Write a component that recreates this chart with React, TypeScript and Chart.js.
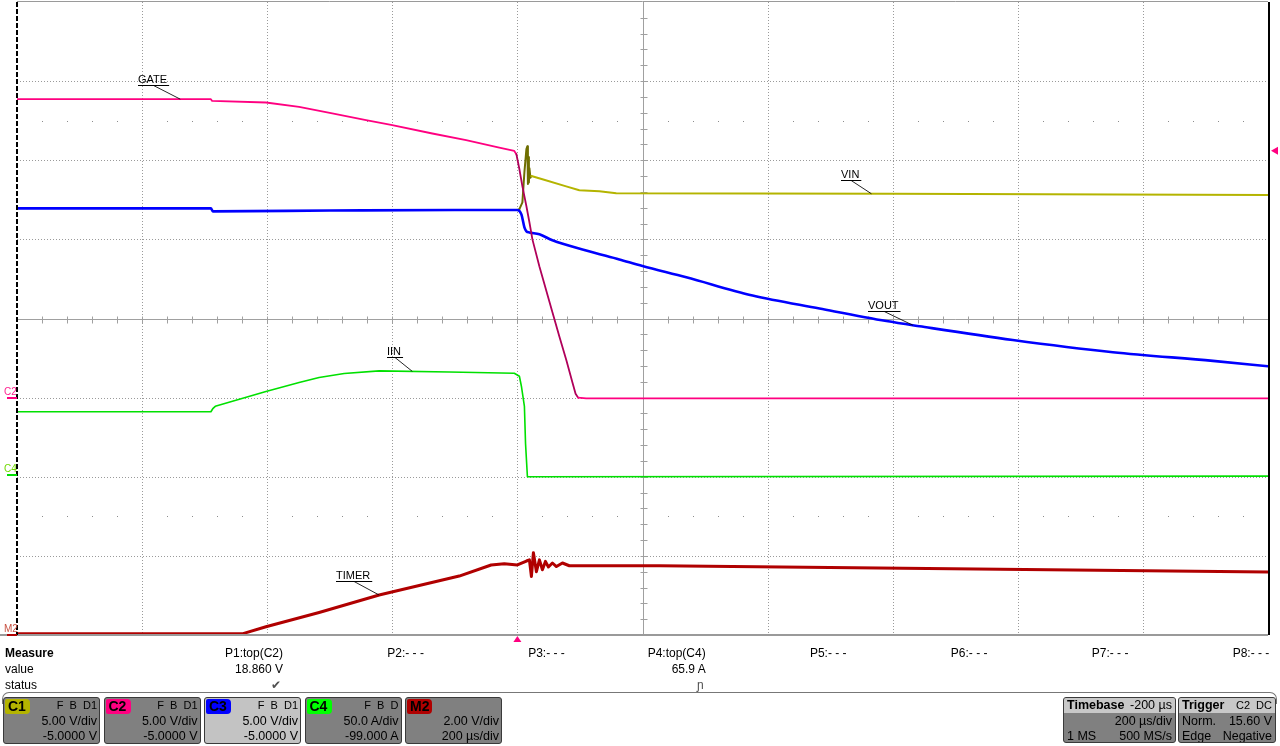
import React, { useEffect, useRef } from "react";
import { Chart, registerables } from "chart.js";

Chart.register(...registerables);

// ---------- time axis (µs, relative to trigger) ----------
const timeMin = -800;
const timeMax = 1200;
const timePerDiv = 200;
const minorTime = 40;

// ---------- C2 GATE (V) ----------
const gateTime = [-800, -490, -488, -402, -349, -296, -242, -202, -136, -82, -29, -5, -1.6, 3.2, 8, 14.4, 19.2, 24, 35.2, 56, 67.2, 78.4, 88, 93, 97, 110, 1200];
const gateVolts = [18.86, 18.86, 18.75, 18.65, 18.37, 17.96, 17.53, 17.23, 16.69, 16.27, 15.8, 15.59, 15.38, 14.43, 13.35, 12.09, 11.08, 10.0, 8.29, 5.4, 3.85, 2.35, 0.95, 0.25, 0.0, -0.05, -0.05];

// ---------- C1 VIN (V) ----------
const vinTime = [0, 3, 8, 11.2, 14.4, 16, 16.8, 17.6, 18.4, 19.2, 20.8, 22.4, 40, 78, 99, 131, 158, 600, 1200];
const vinVolts = [11.86, 11.9, 12.34, 14.24, 15.7, 15.89, 13.5, 15.2, 13.6, 14.5, 13.9, 14.0, 13.8, 13.35, 13.1, 13.04, 12.91, 12.88, 12.8];

// ---------- C3 VOUT (V) ----------
const voutTime = [-800, -490, -487, -300, -100, 0, 6.4, 11.2, 14.4, 19.2, 35.2, 56, 110, 163, 200, 270, 376, 483, 590, 643, 792, 952, 1112, 1200];
const voutVolts = [11.96, 11.96, 11.77, 11.82, 11.86, 11.86, 11.58, 10.76, 10.51, 10.44, 10.32, 9.94, 9.3, 8.73, 8.32, 7.6, 6.45, 5.63, 4.84, 4.51, 3.64, 2.87, 2.32, 1.98];

// ---------- C4 IIN (A) ----------
const iinTime = [-800, -490, -487, -483, -402, -349, -317, -277, -221, -109, -5, 3.2, 6.4, 11.2, 13, 16, 1200];
const iinAmps = [40.1, 40.1, 42.0, 43.5, 52.9, 58.5, 61.7, 64.2, 65.9, 65.2, 64.4, 62.5, 56.2, 43.5, 20, -1, -0.6];

// ---------- M2 TIMER (V) ----------
const timerTime = [-800, -440, -402, -317, -221, -93, -42, -21, 0, 14.4, 19.2, 22.4, 25.6, 30.4, 35.2, 40, 44.8, 49.6, 56, 62.4, 72, 83, 227, 1200];
const timerVolts = [0.03, 0.03, 0.21, 0.57, 1.01, 1.49, 1.77, 1.8, 1.77, 1.87, 1.9, 1.48, 2.08, 1.6, 1.9, 1.65, 1.86, 1.72, 1.82, 1.73, 1.82, 1.75, 1.75, 1.59];

// ---------- channel vertical settings ----------
const voltRange = [-15, 25]; // 5 V/div, offset -5 V
const ampRange = [-101, 299]; // 50 A/div, offset -99 A
const mathRange = [0, 16]; // 2 V/div
const voltPerDiv = 5;
const triggerLevel = 15.6;

// ---------- trace annotations ----------
const traceLabels = ["GATE", "VIN", "VOUT", "IIN", "TIMER"];
const labelTimes = [-539, 566, 632, -168, -221];
const labelAxes = ["yC2", "yC1", "yC3", "yC4", "yM2"];
const labelSeries = [
  [gateTime, gateVolts],
  [vinTime, vinVolts],
  [voutTime, voutVolts],
  [iinTime, iinAmps],
  [timerTime, timerVolts],
];
const labelShift = [42, 30, 45, 25, 43];

// ---------- measure panel ----------
const measureHeaders = ["P1:top(C2)", "P2:- - -", "P3:- - -", "P4:top(C4)", "P5:- - -", "P6:- - -", "P7:- - -", "P8:- - -"];
const measureValues = ["18.860 V", "", "", "65.9 A", "", "", "", ""];
const measureStatus = ["✔", "", "", "ɲ", "", "", "", ""];

// ---------- channel descriptors ----------
const channelNames = ["C1", "C2", "C3", "C4", "M2"];
const channelFlags = ["F  B  D1", "F  B  D1", "F  B  D1", "F  B  D", ""];
const channelScales = ["5.00 V/div", "5.00 V/div", "5.00 V/div", "50.0 A/div", "2.00 V/div"];
const channelOffsets = ["-5.0000 V", "-5.0000 V", "-5.0000 V", "-99.000 A", "200 µs/div"];
const channelColors = ["#b4b400", "#ff0080", "#0000ff", "#00ff00", "#b00000"];

function interp(ts: number[], vs: number[], t: number) {
  for (let i = 0; i < ts.length - 1; i++) {
    if (t >= ts[i] && t <= ts[i + 1]) {
      const f = (t - ts[i]) / (ts[i + 1] - ts[i] || 1);
      return vs[i] + f * (vs[i + 1] - vs[i]);
    }
  }
  return vs[vs.length - 1];
}

const toPoints = (ts: number[], vs: number[]) => ts.map((t, i) => ({ x: t, y: vs[i] }));

const FONT = '"Liberation Sans", Arial, sans-serif';

const scopePlugin = {
  id: "scope",
  beforeDatasetsDraw(chart: any) {
    const { ctx, chartArea: a, scales } = chart;
    const xs = scales.x;
    const ys = scales.yC1;
    const centerT = (timeMin + timeMax) / 2;
    const centerV = (voltRange[0] + voltRange[1]) / 2;
    ctx.save();
    ctx.lineWidth = 1;
    ctx.strokeStyle = "#9a9a9a";
    ctx.setLineDash([1, 2]);
    for (let t = timeMin + timePerDiv; t < timeMax; t += timePerDiv) {
      if (t === centerT) continue;
      const px = Math.round(xs.getPixelForValue(t)) + 0.5;
      ctx.beginPath();
      ctx.moveTo(px, a.top);
      ctx.lineTo(px, a.bottom);
      ctx.stroke();
    }
    for (let v = voltRange[0] + voltPerDiv; v < voltRange[1]; v += voltPerDiv) {
      if (v === centerV) continue;
      const py = Math.round(ys.getPixelForValue(v)) + 0.5;
      ctx.beginPath();
      ctx.moveTo(a.left, py);
      ctx.lineTo(a.right, py);
      ctx.stroke();
    }
    ctx.setLineDash([]);
    // center axes
    ctx.strokeStyle = "#a0a0a0";
    const cx = Math.round(xs.getPixelForValue(centerT)) + 0.5;
    const cy = Math.round(ys.getPixelForValue(centerV)) + 0.5;
    ctx.beginPath();
    ctx.moveTo(cx, a.top);
    ctx.lineTo(cx, a.bottom);
    ctx.moveTo(a.left, cy);
    ctx.lineTo(a.right, cy);
    ctx.stroke();
    ctx.beginPath();
    for (let t = timeMin + minorTime; t < timeMax; t += minorTime) {
      const px = Math.round(xs.getPixelForValue(t)) + 0.5;
      ctx.moveTo(px, cy - 3);
      ctx.lineTo(px, cy + 4);
    }
    for (let v = voltRange[0] + 1; v < voltRange[1]; v += 1) {
      const py = Math.round(ys.getPixelForValue(v)) + 0.5;
      ctx.moveTo(cx - 3, py);
      ctx.lineTo(cx + 4, py);
    }
    ctx.stroke();
    // dotted rows at +/- 2.5 div
    ctx.fillStyle = "#8c8c8c";
    [centerV + 2.5 * voltPerDiv, centerV - 2.5 * voltPerDiv].forEach((v) => {
      const py = Math.round(ys.getPixelForValue(v));
      for (let t = timeMin + minorTime; t < timeMax; t += minorTime) {
        if ((t - timeMin) % timePerDiv === 0) continue;
        const px = Math.round(xs.getPixelForValue(t));
        ctx.fillRect(px, py, 1, 1);
      }
    });
    ctx.restore();
  },
  afterDatasetsDraw(chart: any) {
    const { ctx, chartArea: a, scales } = chart;
    const xs = scales.x;
    ctx.save();
    // borders
    ctx.strokeStyle = "#9a9a9a";
    ctx.lineWidth = 1;
    ctx.beginPath();
    ctx.moveTo(a.left, a.top - 0.5);
    ctx.lineTo(a.right, a.top - 0.5);
    ctx.stroke();
    ctx.lineWidth = 2;
    ctx.beginPath();
    ctx.moveTo(0, a.bottom);
    ctx.lineTo(a.right, a.bottom);
    ctx.stroke();
    ctx.strokeStyle = "#000";
    ctx.setLineDash([5, 2]);
    ctx.beginPath();
    ctx.moveTo(a.left, a.top);
    ctx.lineTo(a.left, a.bottom);
    ctx.stroke();
    ctx.setLineDash([]);
    ctx.beginPath();
    ctx.moveTo(a.right + 1, a.top);
    ctx.lineTo(a.right + 1, a.bottom);
    ctx.stroke();

    // channel ground markers on the left
    const markers = [
      { txt: "C2", axis: "yC2", tc: "#ff2090", bc: "#ff0080" },
      { txt: "C4", axis: "yC4", tc: "#70d800", bc: "#00e000" },
      { txt: "M2", axis: "yM2", tc: "#c85040", bc: "#b00000" },
    ];
    ctx.font = `10px ${FONT}`;
    ctx.textBaseline = "alphabetic";
    markers.forEach((m) => {
      const py = Math.round(scales[m.axis].getPixelForValue(0));
      ctx.fillStyle = m.tc;
      ctx.fillText(m.txt, 4, py - 3);
      ctx.fillStyle = m.bc;
      ctx.fillRect(7, py - 1, 10, 2);
    });

    // trigger level marker (right) and trigger position (bottom)
    ctx.fillStyle = "#ff0080";
    const ty = scales.yC2.getPixelForValue(triggerLevel);
    ctx.beginPath();
    ctx.moveTo(a.right + 3, ty);
    ctx.lineTo(a.right + 10, ty - 4);
    ctx.lineTo(a.right + 10, ty + 4);
    ctx.closePath();
    ctx.fill();
    const tx = xs.getPixelForValue(0);
    ctx.beginPath();
    ctx.moveTo(tx, a.bottom + 1);
    ctx.lineTo(tx - 4, a.bottom + 7);
    ctx.lineTo(tx + 4, a.bottom + 7);
    ctx.closePath();
    ctx.fill();

    // trace labels
    ctx.font = `11px ${FONT}`;
    traceLabels.forEach((lab, i) => {
      const [ts, vs] = labelSeries[i];
      const ax = xs.getPixelForValue(labelTimes[i]);
      const ay = scales[labelAxes[i]].getPixelForValue(interp(ts, vs, labelTimes[i]));
      const w = ctx.measureText(lab).width + 2;
      const ux = Math.round(ax - labelShift[i]);
      const uy = Math.round(ay - 14) + 0.5;
      ctx.fillStyle = "#000";
      ctx.fillText(lab, ux, uy - 3);
      ctx.strokeStyle = "#000";
      ctx.lineWidth = 1;
      ctx.beginPath();
      ctx.moveTo(ux, uy);
      ctx.lineTo(ux + w, uy);
      ctx.stroke();
      ctx.strokeStyle = "rgba(0,0,0,0.85)";
      ctx.beginPath();
      ctx.moveTo(ux + w / 2, uy);
      ctx.lineTo(ax, ay);
      ctx.stroke();
    });
    ctx.restore();
  },
};

function ChannelBox({ i }: { i: number }) {
  const left = 3 + i * 100.5;
  const selected = channelNames[i] === "C3";
  return (
    <div
      style={{
        position: "absolute",
        left,
        top: 697,
        width: 97,
        height: 47,
        background: selected ? "#c3c3c3" : "#808080",
        border: "1px solid #3a3a3a",
        borderRadius: 3,
        boxSizing: "border-box",
        color: "#000",
      }}
    >
      <div
        style={{
          position: "absolute",
          left: 1,
          top: 1,
          width: 25,
          height: 15,
          background: channelColors[i],
          borderRadius: "2px 4px 4px 2px",
          font: `bold 14px ${FONT}`,
          lineHeight: "15px",
          paddingLeft: 3,
          boxSizing: "border-box",
          color: "#000",
        }}
      >
        {channelNames[i]}
      </div>
      <div style={{ position: "absolute", right: 2, top: 1, font: `11px ${FONT}`, lineHeight: "13px", whiteSpace: "pre" }}>
        {channelFlags[i]}
      </div>
      <div style={{ position: "absolute", right: 2, top: 16, font: `12.5px ${FONT}`, lineHeight: "15px", whiteSpace: "pre" }}>
        {channelScales[i]}
      </div>
      <div style={{ position: "absolute", right: 2, top: 31, font: `12.5px ${FONT}`, lineHeight: "15px", whiteSpace: "pre" }}>
        {channelOffsets[i]}
      </div>
    </div>
  );
}

function InfoBox({ left, width, title, titleRight, rows }: { left: number; width: number; title: string; titleRight: string; rows: string[][] }) {
  return (
    <div
      style={{
        position: "absolute",
        left,
        top: 697,
        width,
        height: 46,
        background: "#808080",
        border: "1px solid #3a3a3a",
        borderRadius: 3,
        boxSizing: "border-box",
        overflow: "hidden",
        color: "#000",
        font: `12.5px ${FONT}`,
      }}
    >
      <div style={{ position: "absolute", left: 0, top: 0, right: 0, height: 15, background: "#c8c8c8" }} />
      <div style={{ position: "absolute", left: 3, top: 0, font: `bold 12.5px ${FONT}`, lineHeight: "15px" }}>{title}</div>
      <div style={{ position: "absolute", right: 3, top: 0, font: `${titleRight.length < 7 ? 11 : 12.5}px ${FONT}`, lineHeight: "15px", whiteSpace: "pre" }}>{titleRight}</div>
      {rows.map((r, k) => (
        <React.Fragment key={k}>
          <div style={{ position: "absolute", left: 3, top: 16 + k * 15, lineHeight: "15px" }}>{r[0]}</div>
          <div style={{ position: "absolute", right: 3, top: 16 + k * 15, lineHeight: "15px" }}>{r[1]}</div>
        </React.Fragment>
      ))}
    </div>
  );
}

export default function App() {
  const canvasRef = useRef<HTMLCanvasElement>(null);

  useEffect(() => {
    const steepGate = (c: any) => (c.p0.parsed.x >= -2 && c.p1.parsed.x <= 100 ? "#b0005a" : undefined);
    const spikeVin = (c: any) => (c.p0.parsed.x >= 3 && c.p1.parsed.x <= 23 ? "#6e6e00" : undefined);
    const chart = new Chart(canvasRef.current as HTMLCanvasElement, {
      type: "line",
      data: {
        datasets: [
          { label: "GATE", data: toPoints(gateTime, gateVolts), yAxisID: "yC2", borderColor: "#ff0080", borderWidth: 1.8, order: 0, segment: { borderColor: steepGate } },
          { label: "VOUT", data: toPoints(voutTime, voutVolts), yAxisID: "yC3", borderColor: "#0000ff", borderWidth: 2.6, order: 1, cubicInterpolationMode: "monotone" },
          { label: "VIN", data: toPoints(vinTime, vinVolts), yAxisID: "yC1", borderColor: "#b4b400", borderWidth: 2, order: 2, segment: { borderColor: spikeVin } },
          { label: "IIN", data: toPoints(iinTime, iinAmps), yAxisID: "yC4", borderColor: "#00e000", borderWidth: 1.6, order: 3 },
          { label: "TIMER", data: toPoints(timerTime, timerVolts), yAxisID: "yM2", borderColor: "#b00000", borderWidth: 3, order: 4 },
        ] as any,
      },
      options: {
        animation: false,
        responsive: false,
        devicePixelRatio: 1,
        events: [],
        layout: { padding: { left: 17, right: 12, top: 2, bottom: 11 } },
        elements: { point: { radius: 0 }, line: { tension: 0, borderJoinStyle: "round", borderCapStyle: "round" } },
        plugins: { legend: { display: false }, tooltip: { enabled: false } },
        scales: {
          x: { type: "linear", min: timeMin, max: timeMax, display: false },
          yC1: { type: "linear", min: voltRange[0], max: voltRange[1], display: false },
          yC2: { type: "linear", min: voltRange[0], max: voltRange[1], display: false },
          yC3: { type: "linear", min: voltRange[0], max: voltRange[1], display: false },
          yC4: { type: "linear", min: ampRange[0], max: ampRange[1], display: false },
          yM2: { type: "linear", min: mathRange[0], max: mathRange[1], display: false },
        },
      },
      plugins: [scopePlugin],
    } as any);
    return () => chart.destroy();
  }, []);

  const colRight = (i: number) => 1280 - (283 + i * 140.9);

  return (
    <div
      style={{
        position: "absolute",
        left: 0,
        top: 0,
        width: 1280,
        height: 746,
        background: "#fff",
        overflow: "hidden",
        fontFamily: FONT,
        color: "#000",
      }}
    >
      <canvas ref={canvasRef} width={1280} height={646} style={{ position: "absolute", left: 0, top: 0, width: 1280, height: 646 }} />
      <div style={{ position: "absolute", left: 5, top: 645, font: `bold 12px ${FONT}`, lineHeight: "16px" }}>Measure</div>
      <div style={{ position: "absolute", left: 5, top: 661, font: `12px ${FONT}`, lineHeight: "16px" }}>value</div>
      <div style={{ position: "absolute", left: 5, top: 677, font: `12px ${FONT}`, lineHeight: "16px" }}>status</div>
      {measureHeaders.map((h, i) => (
        <React.Fragment key={h + i}>
          <div style={{ position: "absolute", right: colRight(i), top: 645, font: `12px ${FONT}`, lineHeight: "16px", whiteSpace: "pre" }}>{h}</div>
          <div style={{ position: "absolute", right: colRight(i), top: 661, font: `12px ${FONT}`, lineHeight: "16px", whiteSpace: "pre" }}>{measureValues[i]}</div>
          <div style={{ position: "absolute", right: colRight(i) + 2, top: 677, font: `12px ${FONT}`, lineHeight: "16px", color: "#505050" }}>{measureStatus[i]}</div>
        </React.Fragment>
      ))}
      <div
        style={{
          position: "absolute",
          left: 2,
          top: 692,
          width: 1275,
          height: 12,
          borderTop: "1px solid #777",
          borderLeft: "1px solid #777",
          borderRight: "1px solid #777",
          borderRadius: "7px 7px 0 0",
          boxSizing: "border-box",
        }}
      />
      {channelNames.map((_, i) => (
        <ChannelBox key={i} i={i} />
      ))}
      <InfoBox left={1063} width={113} title="Timebase" titleRight="-200 µs" rows={[["", "200 µs/div"], ["1 MS", "500 MS/s"]]} />
      <InfoBox left={1178} width={98} title="Trigger" titleRight="C2  DC" rows={[["Norm.", "15.60 V"], ["Edge", "Negative"]]} />
    </div>
  );
}
